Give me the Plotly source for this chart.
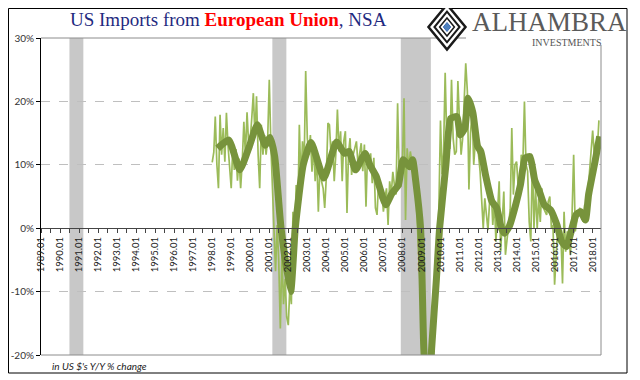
import plotly.graph_objects as go
import pandas as pd

# ---------------- data ----------------
thin_start = "1998-01-01"
thin_values = [
    # 1998
    10.4, 12.0, 17.6, 10.0, 6.3, 17.9, 11.6, 15.8, 10.5, 18.2, 13.0, 8.9,
    # 1999
    6.3, 13.0, 9.2, 12.5, 7.5, 11.0, 6.3, 10.5, 16.8, 11.5, 18.3, 13.4,
    # 2000
    14.0, 17.5, 21.3, 14.5, 20.8, 11.6, 6.3, 16.3, 11.6, 14.7, 11.6, 14.0,
    # 2001
    23.4, 13.0, 7.0, 0.0, -6.8, 0.5, -5.0, -15.8, -4.0, -12.0, -8.0, -14.0,
    # 2002
    -15.3, -9.0, -12.0, 2.6, -3.0, 6.8, 1.0, 16.3, 7.4, 13.7, 10.0, 24.8,
    # 2003
    14.2, 11.6, 14.7, 8.9, 13.2, 7.4, 11.6, 2.6, 10.0, 7.4, 6.3, 3.2,
    # 2004
    8.0, 16.6, 16.3, 11.6, 13.7, 7.4, 11.6, 18.7, 12.1, 15.3, 7.4, 13.7,
    # 2005
    15.3, 2.4, 11.6, 14.2, 8.4, 11.6, 12.6, 13.7, 10.0, 11.6, 13.4, 9.0,
    # 2006
    13.2, 3.4, 11.6, 9.5, 11.8, 7.1, 11.1, 3.2, 2.1, 7.4, 4.7, 6.0,
    # 2007
    2.6, 4.7, 6.3, 0.5, 7.4, 5.3, 8.9, 6.8, 5.3, 19.7, 8.0, 6.5,
    # 2008
    10.0, 20.5, 1.3, 12.6, 9.5, 12.1, 10.5, 8.0, 9.8, 3.0, -2.5, -9.0,
    # 2009
    -12.0, -20.0, -27.0, -30.0, -29.0, -26.0, -22.0, -18.0, -14.0, -9.0, -4.0, 3.0,
    # 2010
    17.0, 8.5, 12.0, 24.5, 14.2, 16.3, 12.5, 23.4, 14.2, 11.6, 12.1, 23.2,
    # 2011
    16.8, 11.6, 14.0, 21.0, 26.0, 21.6, 6.1, 15.0, 18.5, 10.0, 13.7, 12.6,
    # 2012
    11.6, 8.9, 5.3, 0.0, 4.7, 2.6, -0.3, 4.2, 6.3, 0.5, 4.2, -2.1,
    # 2013
    3.0, 7.4, -3.7, 2.1, 5.8, -4.2, -2.1, 0.0, 3.0, 15.8, 5.3, 10.0,
    # 2014
    10.5, 6.5, 5.3, 11.6, 10.0, 20.0, 10.0, 9.0, 1.0, -2.1, 11.1, 0.0,
    # 2015
    6.3, 0.0, 4.7, 1.0, 6.3, 3.2, 2.6, 2.1, 4.2, 5.0, 0.0, 0.5,
    # 2016
    -8.9, -4.2, 0.0, -2.1, -1.0, -8.7, 2.6, -3.7, -0.5, -1.5, -4.2, 2.0,
    # 2017
    11.6, -0.5, 1.0, 2.6, 3.2, 2.1, 1.0, 3.7, 2.0, 5.5, 9.0, 12.5,
    # 2018
    15.4, 11.5, 13.5, 12.5, 17.0,
]

thick_dates = [
    "1998-04", "1998-11", "1999-06", "1999-12", "2000-05", "2000-10", "2001-01",
    "2001-04", "2001-08", "2002-02", "2002-05", "2002-10", "2003-03", "2003-11",
    "2004-07", "2004-12", "2005-03", "2005-07", "2006-01", "2006-04", "2006-08",
    "2007-02", "2007-06", "2007-10", "2008-01", "2008-05", "2008-07", "2008-09",
    "2008-12", "2009-02", "2009-04", "2009-06", "2009-07", "2009-10", "2009-12",
    "2010-04", "2010-07", "2010-11", "2011-01", "2011-04", "2011-06", "2011-09",
    "2011-12", "2012-02", "2012-05", "2012-09", "2012-12", "2013-03", "2013-05",
    "2013-08", "2013-12", "2014-03", "2014-06", "2014-09", "2014-12", "2015-03",
    "2015-06", "2015-10", "2016-02", "2016-05", "2016-08", "2016-11", "2017-02",
    "2017-05", "2017-08", "2017-10", "2018-02", "2018-05",
]
thick_values = [
    12.6, 13.9, 9.2, 12.9, 16.3, 13.1, 14.3,
    11.3, 0.0, -10.0, 0.0, 10.0, 13.5, 7.9,
    13.6, 11.8, 12.1, 9.2, 11.8, 10.0, 8.2,
    3.7, 5.5, 6.8, 10.8, 9.7, 10.8, 7.3,
    0.0, -19.0, -26.0, -24.0, -19.0, -8.0, 0.0,
    10.0, 17.3, 17.6, 14.7, 15.8, 20.5, 18.2,
    12.9, 12.1, 8.4, 4.2, 3.2, 0.0, -0.8,
    0.3, 3.7, 6.8, 11.1, 11.3, 7.6, 5.8,
    3.7, 2.9, 0.5, -2.1, -2.9, -0.5, 2.1,
    2.6, 1.3, 5.3, 10.5, 14.5,
]

recession_starts = ["1990-07-01", "2001-03-01", "2007-12-01"]
recession_ends = ["1991-03-25", "2001-11-25", "2009-06-30"]

years = list(range(1989, 2019))
y_ticks = [30, 20, 10, 0, -10, -20]
y_labels = ["30%", "20%", "10%", "0%", "-10%", "-20%"]

# ---------------- geometry helpers (page pixels -> paper) ----------------
OFF = 8  # default page body margin
L, R, T, B = 41, 601, 38, 355
def px(x):
    return (x - L) / (R - L)
def py(y):
    return (B - y) / (B - T)

thin_dates = pd.date_range(thin_start, periods=len(thin_values), freq="MS")

fig = go.Figure()
fig.add_trace(go.Scatter(x=thin_dates, y=thin_values, mode="lines",
                         line=dict(color="#9BBB59", width=1.7),
                         hoverinfo="skip", showlegend=False))
fig.add_trace(go.Scatter(x=[d + "-15" for d in thick_dates], y=thick_values, mode="lines",
                         line=dict(color="#77933C", width=7, shape="spline", smoothing=0.5),
                         hoverinfo="skip", showlegend=False))

shapes = []
for s, e in zip(recession_starts, recession_ends):
    shapes.append(dict(type="rect", xref="x", yref="paper", x0=s, x1=e, y0=0, y1=1,
                       fillcolor="#C8C8C8", line=dict(width=0), layer="below"))

# mask dashed grid under logo, solid top / bottom / right borders
shapes.append(dict(type="rect", xref="paper", yref="paper", x0=px(466), x1=px(600.5),
                   y0=py(41), y1=py(35), fillcolor="white", line=dict(width=0), layer="above"))
shapes.append(dict(type="line", xref="paper", yref="paper", x0=0, x1=px(466), y0=1, y1=1,
                   line=dict(color="#8C8C8C", width=1)))
shapes.append(dict(type="line", xref="paper", yref="paper", x0=0, x1=1, y0=0, y1=0,
                   line=dict(color="#8C8C8C", width=1)))
shapes.append(dict(type="line", xref="paper", yref="paper", x0=1, x1=1, y0=0, y1=py(45),
                   line=dict(color="#8C8C8C", width=1)))
# outer frame
shapes.append(dict(type="rect", xref="paper", yref="paper", x0=px(8.5), x1=px(627),
                   y0=py(373), y1=py(8.5), line=dict(color="black", width=1),
                   fillcolor="rgba(0,0,0,0)"))

# logo diamond
cx, cy, hw, hh = 447, 27, 18.5, 22.5
def diamond(scale):
    w, h = hw * scale, hh * scale
    pts = [(cx, cy - h), (cx + w, cy), (cx, cy + h), (cx - w, cy)]
    return "M " + " L ".join(f"{px(a):.5f},{py(b):.5f}" for a, b in pts) + " Z"
shapes.append(dict(type="path", xref="paper", yref="paper", path=diamond(1.0),
                   line=dict(color="#1A1A1A", width=2.5), fillcolor="white"))
shapes.append(dict(type="path", xref="paper", yref="paper", path=diamond(0.68),
                   line=dict(color="#1A1A1A", width=2), fillcolor="rgba(0,0,0,0)"))
shapes.append(dict(type="path", xref="paper", yref="paper", path=diamond(0.40),
                   line=dict(color="#1A1A1A", width=1.5), fillcolor="rgba(0,0,0,0)"))
shapes.append(dict(type="path", xref="paper", yref="paper", path=diamond(0.20),
                   line=dict(color="#3B6DB5", width=1), fillcolor="#4F81BD"))

annotations = [
    dict(xref="paper", yref="paper", x=px(68), y=py(20), xanchor="left", yanchor="middle",
         showarrow=False,
         text="US Imports from <b><span style='color:#FF0000'>European Union</span></b>, NSA",
         font=dict(family="Liberation Serif", size=19, color="#1F2A80")),
    dict(xref="paper", yref="paper", x=px(549), y=py(22), xanchor="center", yanchor="middle",
         showarrow=False, text="ALHAMBRA",
         font=dict(family="Liberation Serif", size=27, color="#5A5A5A")),
    dict(xref="paper", yref="paper", x=px(566), y=py(42), xanchor="center", yanchor="middle",
         showarrow=False, text="INVESTMENTS",
         font=dict(family="Liberation Serif", size=10, color="#555555")),
    dict(xref="paper", yref="paper", x=px(50), y=py(366), xanchor="left", yanchor="middle",
         showarrow=False, text="<i>in US $'s Y/Y % change</i>",
         font=dict(family="Lato", size=10, color="#222222")),
]

tickvals, ticktext = [], []
for y in years:
    tickvals += [f"{y}-01-01", f"{y}-07-01"]
    ticktext += [f"{y}.01", ""]

fig.update_layout(
    width=640 - OFF, height=380 - OFF,
    margin=dict(l=L - OFF, r=640 - R, t=T - OFF, b=380 - B, autoexpand=False),
    paper_bgcolor="white", plot_bgcolor="white",
    shapes=shapes, annotations=annotations,
    xaxis=dict(type="date", range=["1989-01-01", "2018-06-10"],
               anchor="free", position=0.4, automargin=False,
               tickmode="array", tickvals=tickvals, ticktext=ticktext,
               tickangle=-90, ticks="outside", ticklen=4, tickcolor="#444444",
               showline=True, linecolor="#444444", linewidth=1,
               showgrid=False, zeroline=False,
               tickfont=dict(family="Lato", size=9.5, color="#222222")),
    yaxis=dict(range=[-20, 30], tickmode="array", tickvals=y_ticks, ticktext=y_labels,
               automargin=False,
               showgrid=True, gridcolor="#BFBFBF", griddash="dash", gridwidth=1,
               zeroline=False, showline=True, linecolor="black", linewidth=1,
               ticks="outside", ticklen=4, tickcolor="black",
               tickfont=dict(family="Lato", size=10, color="#333333")),
)

fig.write_html("out.html")
